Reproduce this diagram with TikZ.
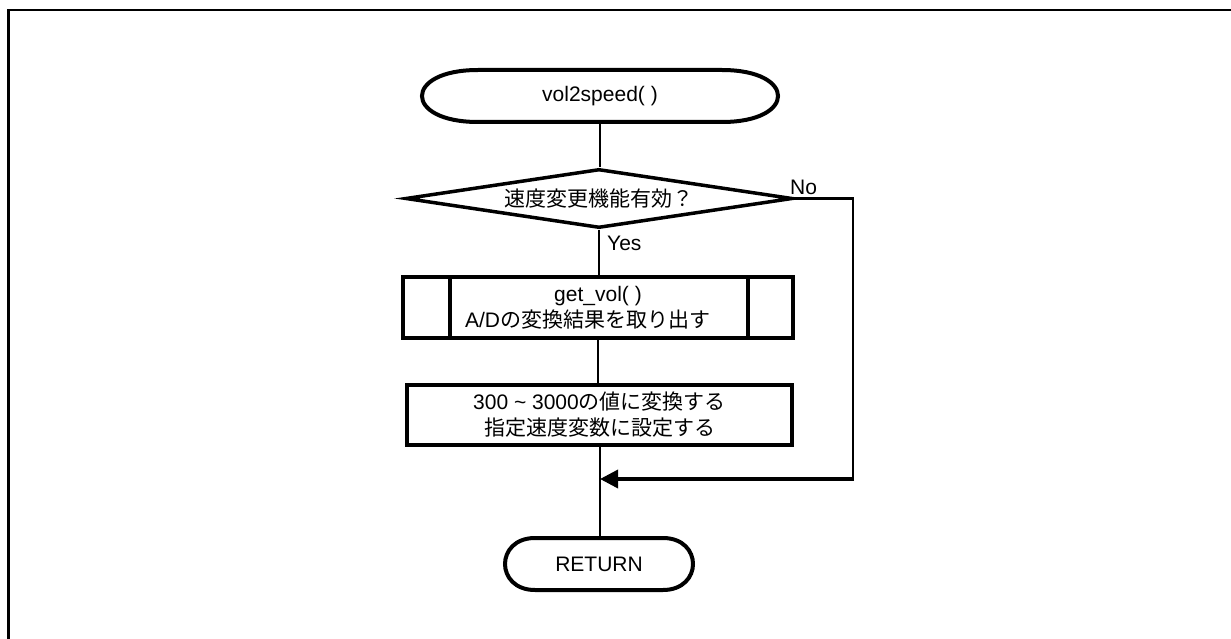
\documentclass[tikz,border=0pt]{standalone}
\usepackage{fontspec}
\setmainfont{Liberation Sans}
\newfontfamily\jp{Noto Sans CJK JP}
\usetikzlibrary{arrows.meta,shapes.geometric}
\begin{document}
\begin{tikzpicture}[x=1pt,y=-1pt,
  font=\fontsize{21pt}{26pt}\selectfont,
  conn/.style={line width=2pt},
  shapeline/.style={line width=4pt},
  plain/.style={inner sep=0pt, outer sep=0pt, align=center},
  boxnode/.style={draw, line width=4pt, inner sep=0pt, align=center},
  lbl/.style={inner sep=0pt, anchor=base west}]
\useasboundingbox (0,0) rectangle (1231,639);
% frame
\draw[line width=2.5pt] (1231,10) -- (8.5,10) -- (8.5,639);
% start terminal
\node[plain, minimum width=356pt, minimum height=52pt] (start) at (600,96) {vol2speed( )};
\draw[shapeline] (478,70) -- (722,70) .. controls (796.7,70) and (796.7,122) .. (722,122)
  -- (478,122) .. controls (403.3,122) and (403.3,70) .. (478,70) -- cycle;
% decision
\node[diamond, draw, line width=3.5pt, inner sep=0pt, minimum width=387pt, minimum height=59pt,
  shape aspect=6.5] (dec) at (599,198.5) {\jp 速度変更機能有効？};
% subroutine
\node[boxnode, minimum width=390pt, minimum height=61pt] (sub) at (598,307.5)
  {get\_vol( )\\A/D{\jp の変換結果を取り出す　}};
\draw[line width=3.5pt] ([xshift=49pt]sub.north west) -- ([xshift=49pt]sub.south west);
\draw[line width=3.5pt] ([xshift=-47pt]sub.north east) -- ([xshift=-47pt]sub.south east);
% process
\node[boxnode, minimum width=385pt, minimum height=60pt] (proc) at (599.5,415)
  {300 \textasciitilde{} 3000{\jp の値に変換する}\\{\jp 指定速度変数に設定する}};
% return terminal
\node[plain, minimum width=188pt, minimum height=52pt] (ret) at (599,564) {RETURN};
\draw[shapeline] (535,538) -- (663,538) .. controls (703,538) and (703,590) .. (663,590)
  -- (535,590) .. controls (495,590) and (495,538) .. (535,538) -- cycle;
% connectors
\draw[conn] (start.south) -- (start.south |- dec.north);
\draw[conn] (dec.south) -- (dec.south |- sub.north);
\draw[conn] (sub.south) -- (sub.south |- proc.north);
\draw[conn] (proc.south) -- (proc.south |- ret.north);
\coordinate (merge) at (600,479);
\coordinate (nocorner) at (853,479);
\draw[line width=2.5pt] (dec.east) -| (nocorner);
\draw[line width=3.5pt, -{Triangle[length=18pt,width=18pt]}] ([xshift=1.2pt]nocorner) -- (merge);
% labels
\node[lbl] (no) at (790,195) {No};
\node[lbl] (yes) at (607,250) {Yes};
\end{tikzpicture}
\end{document}
